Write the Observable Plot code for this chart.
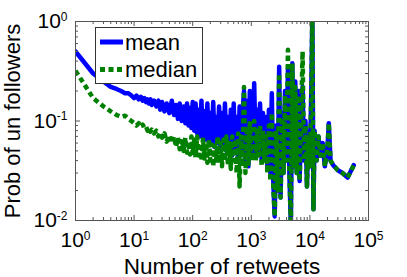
<!DOCTYPE html>
<html><head><meta charset="utf-8">
<script src="https://cdn.jsdelivr.net/npm/d3@7"></script>
<script src="https://cdn.jsdelivr.net/npm/@observablehq/plot@0.6"></script>
<style>
body{margin:0;background:#fff;}
#chart{position:relative;width:407px;height:277px;}
</style></head><body><div id="chart"></div>
<script>
const retweets = [
1,2,3,4,5,6,7,8,9,10,
11,12,13,14,15,16,17,18,19,20,22,24,26,28,30,33,36,40,44,48,52,56,60,65,70,75,80,85,90,95,100,
106,112,119,126,133,141,150,158,168,178,188,200,211,224,237,251,266,282,299,316,335,355,376,398,422,447,473,501,531,562,596,631,668,708,750,794,841,891,944,1000,
1060,1120,1190,1260,1330,1410,1500,1580,1680,1780,1880,2000,2110,2240,2370,2510,2660,2820,2990,3160,3350,3550,3760,3980,4220,4470,4730,5010,5310,5620,5960,6310,6680,7080,7500,7940,8410,8910,9440,10000,
10600,11000,11500,12000,13000,14000,15000,16500,18000,20000,21000,22500,25000,30000,36000,44000,56000];

const meanProb = [
0.50,0.30,0.25,0.22,0.21,0.20,0.19,0.19,0.18,0.17,
0.18,0.165,0.175,0.16,0.17,0.155,0.165,0.15,0.165,0.145,0.16,0.14,0.16,0.13,0.155,0.125,0.15,0.12,0.16,0.115,0.145,0.105,0.15,0.10,0.14,0.095,0.15,0.09,0.135,0.085,0.155,
0.08,0.15,0.075,0.13,0.07,0.16,0.07,0.125,0.065,0.15,0.062,0.12,0.06,0.155,0.055,0.11,0.06,0.14,0.05,0.12,0.055,0.15,0.05,0.11,0.048,0.13,0.045,0.15,0.05,0.11,0.04,0.14,0.045,0.12,0.2,0.04,0.16,0.035,0.2,0.045,
0.06,0.24,0.045,0.13,0.05,0.15,0.04,0.12,0.045,0.11,0.035,0.13,0.03,0.19,0.025,0.011,0.09,0.02,0.35,0.017,0.12,0.03,0.2,0.04,0.33,0.03,0.009,0.38,0.035,0.25,0.03,0.2,0.025,0.12,0.22,0.04,0.1,0.022,0.08,0.035,
0.22,1.2,0.013,0.08,0.04,0.07,0.045,0.06,0.035,0.055,0.095,0.04,0.036,0.032,0.03,0.027,0.036];

const medianProb = [
0.32,0.17,0.14,0.125,0.115,0.11,0.113,0.105,0.10,0.095,
0.09,0.095,0.088,0.092,0.085,0.088,0.08,0.085,0.078,0.082,0.075,0.08,0.07,0.077,0.068,0.075,0.062,0.072,0.06,0.07,0.055,0.068,0.052,0.066,0.05,0.068,0.048,0.062,0.046,0.07,0.045,
0.065,0.043,0.07,0.045,0.06,0.04,0.068,0.042,0.06,0.038,0.065,0.04,0.058,0.035,0.062,0.04,0.07,0.038,0.06,0.035,0.065,0.04,0.07,0.036,0.06,0.033,0.07,0.04,0.065,0.03,0.075,0.022,0.07,0.035,0.22,0.03,0.08,0.035,0.1,0.04,
0.05,0.1,0.04,0.08,0.045,0.09,0.035,0.08,0.04,0.07,0.03,0.09,0.025,0.12,0.022,0.011,0.08,0.02,0.3,0.017,0.1,0.03,0.18,0.04,0.52,0.03,0.009,0.38,0.035,0.22,0.03,0.18,0.025,0.1,0.5,0.04,0.09,0.022,0.07,0.035,
0.22,1.2,0.013,0.08,0.04,0.07,0.045,0.06,0.035,0.055,0.095,0.04,0.036,0.032,0.03,0.027,0.036];

const seriesNames = ["mean", "median"];
const seriesColors = ["#0000ff", "#008000"];
const xTicks = [1, 10, 100, 1000, 10000, 100000];
const yTicks = [0.01, 0.1, 1];
const minorMultiples = [2, 3, 4, 5, 6, 7, 8, 9];
const xLabel = "Number of retweets";
const yLabel = "Prob of un followers";

const xMinor = xTicks.slice(0, -1).flatMap(d => minorMultiples.map(m => m * d));
const yMinor = yTicks.slice(0, -1).flatMap(d => minorMultiples.map(m => m * d));

const meanData = retweets.map((x, i) => ({x, y: meanProb[i]}));
const medianData = retweets.map((x, i) => ({x, y: medianProb[i]}));

const W = 407, H = 277, ML = 75, MR = 39, MT = 21, MB = 57;
const PH = H - MT - MB, PW = W - ML - MR;
const FONT = "'Liberation Sans', Arial, Helvetica, sans-serif";
const fmt = d => "10^" + Math.round(Math.log10(d));
const tickColor = "#555";
const MAJ = 5, MIN = 3;

const svg = Plot.plot({
  width: W, height: H,
  marginLeft: ML, marginRight: MR, marginTop: MT, marginBottom: MB,
  style: {fontFamily: FONT, background: "#fff", color: "#000"},
  x: {type: "log", domain: [1, 100000]},
  y: {type: "log", domain: [0.01, 1]},
  marks: [
    Plot.line(meanData, {x: "x", y: "y", stroke: seriesColors[0], strokeWidth: 4.5, clip: true, strokeLinejoin: "round"}),
    Plot.line(medianData, {x: "x", y: "y", stroke: seriesColors[1], strokeWidth: 4.5, strokeDasharray: "5,3.5", strokeLinecap: "butt", clip: true}),
    Plot.frame({stroke: tickColor, strokeWidth: 1}),
    // inward ticks on all four sides
    Plot.tickX(xTicks, {x: d => d, insetTop: PH - MAJ, stroke: tickColor}),
    Plot.tickX(xTicks, {x: d => d, insetBottom: PH - MAJ, stroke: tickColor}),
    Plot.tickX(xMinor, {x: d => d, insetTop: PH - MIN, stroke: tickColor}),
    Plot.tickX(xMinor, {x: d => d, insetBottom: PH - MIN, stroke: tickColor}),
    Plot.tickY(yTicks, {y: d => d, insetRight: PW - MAJ, stroke: tickColor}),
    Plot.tickY(yTicks, {y: d => d, insetLeft: PW - MAJ, stroke: tickColor}),
    Plot.tickY(yMinor, {y: d => d, insetRight: PW - MIN, stroke: tickColor}),
    Plot.tickY(yMinor, {y: d => d, insetLeft: PW - MIN, stroke: tickColor}),
    // tick labels and axis titles
    Plot.axisX({anchor: "bottom", ticks: xTicks, tickSize: 0, tickPadding: 12, tickFormat: fmt, fontSize: 21,
      label: null}),
    Plot.axisX({anchor: "bottom", ticks: [], label: xLabel, labelAnchor: "center", labelOffset: 53, labelArrow: "none", fontSize: 22.5}),
    Plot.axisY({anchor: "left", ticks: yTicks, tickSize: 0, tickPadding: 8, tickFormat: fmt, fontSize: 21,
      label: null}),
    Plot.axisY({anchor: "left", ticks: [], label: yLabel, labelAnchor: "center", labelOffset: 71, labelArrow: "none", fontSize: 22})
  ]
});

// superscript exponents
d3.select(svg).selectAll("text").each(function () {
  const t = d3.select(this);
  if (this.childElementCount > 0) return;
  const s = t.text();
  if (!/^10\^-?\d+$/.test(s)) return;
  const [b, e] = s.split("^");
  t.text(b);
  t.append("tspan").attr("dy", "-0.62em").attr("font-size", "12px").text(e);
});

// legend box
const lg = d3.select(svg).append("g").attr("font-family", FONT).attr("font-size", 22)
  .attr("text-anchor", "start");
lg.append("rect").attr("x", 95.5).attr("y", 27.5).attr("width", 107).attr("height", 56)
  .attr("fill", "#fff").attr("stroke", "#333").attr("stroke-width", 1);
seriesNames.forEach((name, i) => {
  const cy = 42 + i * 27.5;
  lg.append("line").attr("x1", 100).attr("x2", 123).attr("y1", cy).attr("y2", cy)
    .attr("stroke", seriesColors[i]).attr("stroke-width", 5)
    .attr("stroke-dasharray", i === 1 ? "5,3.5" : null);
  lg.append("text").attr("x", 125).attr("y", cy + 7.5).attr("fill", "#000")
    .attr("text-anchor", "start").text(name);
});

document.getElementById("chart").appendChild(svg);
</script>
</body></html>
